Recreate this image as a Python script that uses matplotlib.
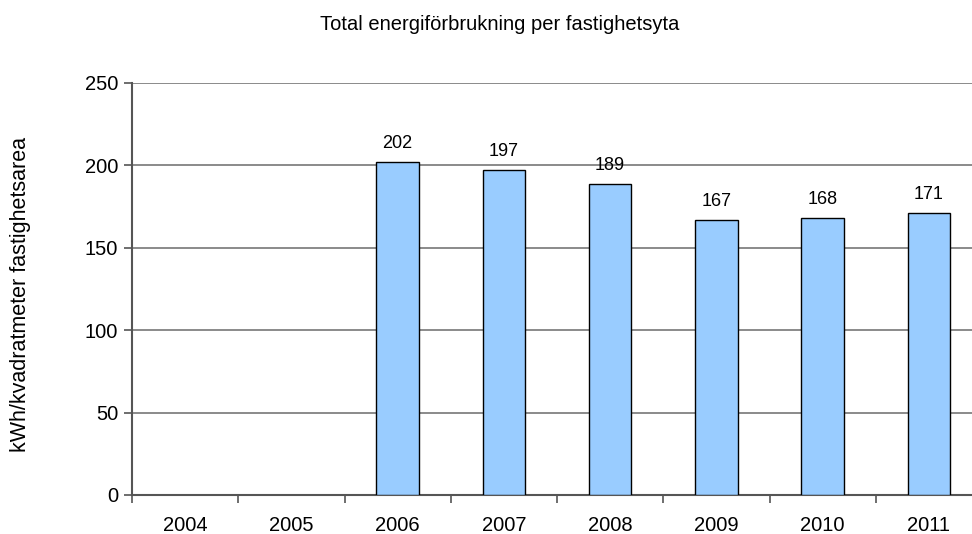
import matplotlib
matplotlib.use("Agg")
import matplotlib.pyplot as plt

years = ["2004", "2005", "2006", "2007", "2008", "2009", "2010", "2011"]
values = [None, None, 202, 197, 189, 167, 168, 171]
yticks = [0, 50, 100, 150, 200, 250]

plt.rcParams['font.family'] = ['Liberation Sans', 'DejaVu Sans']

W, H = 972, 534
fig = plt.figure(figsize=(W/100, H/100), dpi=100)
x0, x1 = 132, 982
y0, y1 = 495, 83
ax = fig.add_axes([x0/W, 1 - y0/H, (x1-x0)/W, (y0-y1)/H])

xs = list(range(len(years)))
for i, v in enumerate(values):
    if v is None:
        continue
    ax.bar(i, v, width=0.4, color="#99CCFF", edgecolor="black", linewidth=1.0, zorder=3)
    ax.text(i, v + 6, str(v), ha="center", va="bottom", fontsize=13, zorder=4)

ax.set_xlim(-0.5, len(years) - 0.5)
ax.set_ylim(0, 250)
ax.set_yticks(yticks)
ax.set_yticklabels([str(t) for t in yticks], fontsize=14.5)
ax.set_xticks([i - 0.5 for i in range(len(years) + 1)])
ax.set_xticklabels([])
ax.set_xticks(xs, minor=True)
ax.set_xticklabels(years, minor=True, fontsize=14.5)
ax.tick_params(axis="x", which="minor", length=0, pad=15)
ax.tick_params(axis="x", which="major", length=6, direction="out", color="#555555", width=1.2)
ax.tick_params(axis="y", length=6, direction="out", color="#555555", width=1.2, pad=4)
ax.grid(axis="y", color="#777777", linewidth=1.2, zorder=0)
for s in ["top", "right"]:
    ax.spines[s].set_visible(False)
ax.spines["left"].set_color("#555555")
ax.spines["left"].set_linewidth(1.5)
ax.spines["bottom"].set_color("#555555")
ax.spines["bottom"].set_linewidth(1.5)
ax.set_axisbelow(True)

fig.text(500/W, 1 - 25/H, "Total energiförbrukning per fastighetsyta", ha="center", va="center", fontsize=14.5)
fig.text(21/W, 1 - 295/H, "kWh/kvadratmeter fastighetsarea", ha="center", va="center", rotation=90, fontsize=15.5)

fig.savefig("out.png", dpi=100)
